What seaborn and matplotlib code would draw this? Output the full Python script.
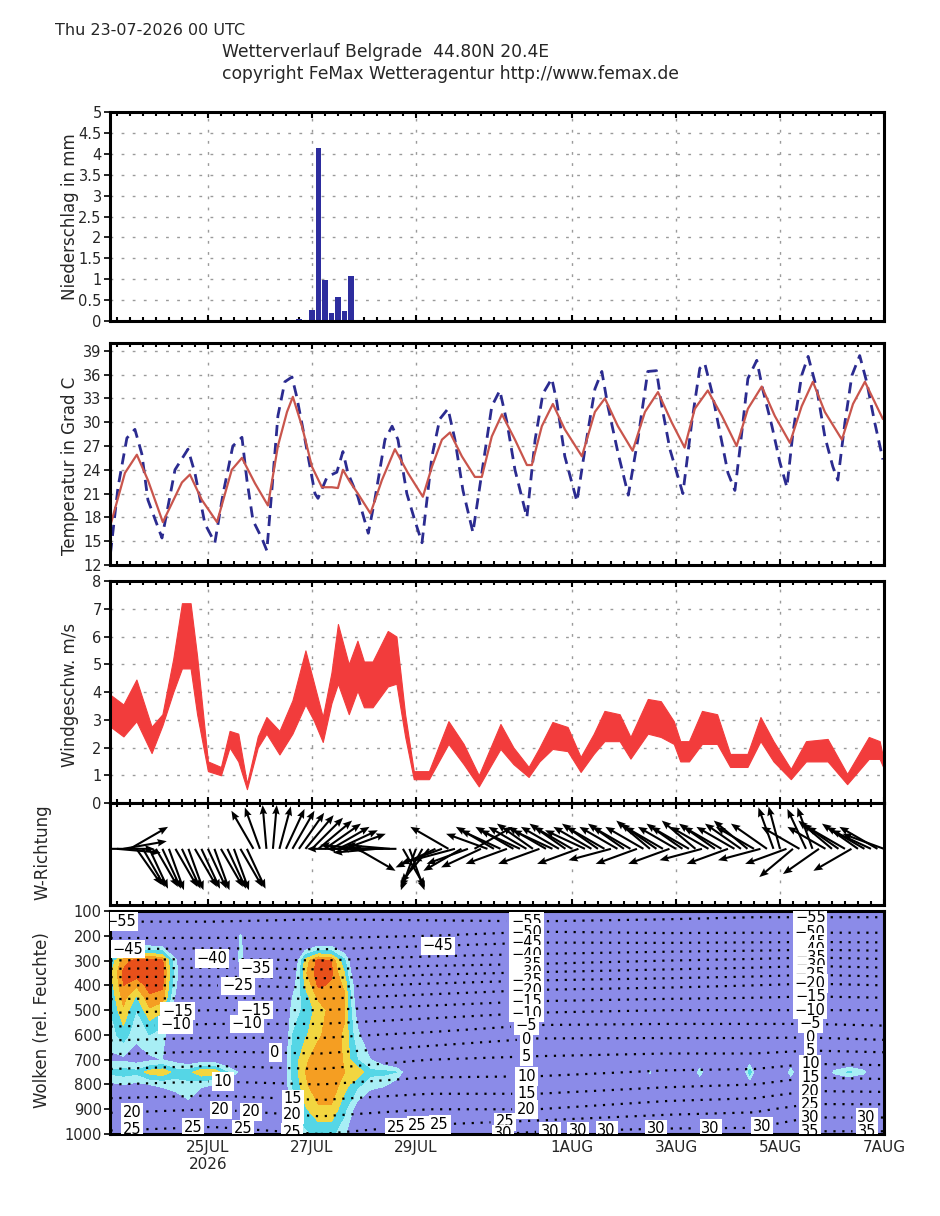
import numpy as np
import matplotlib
matplotlib.use("Agg")
import matplotlib.pyplot as plt
import seaborn as sns

sns.set_theme(style="white")
plt.rcParams["font.family"] = ["DejaVu Sans"]

# time axis: hours since Thu 23-07-2026 00 UTC
x_start, x_end = 2.8, 360
date_ticks = [48, 96, 144, 216, 264, 312, 360]
date_labels = ["25JUL\n2026", "27JUL", "29JUL", "1AUG", "3AUG", "5AUG", "7AUG"]

# precipitation (3-hourly sums, mm)
rain_hours = [90, 93, 96, 99, 102, 105, 108, 111, 114]
rain_mm = [0.05, 0.0, 0.27, 4.15, 0.97, 0.2, 0.58, 0.25, 1.07]

# 2m temperature (dashed blue)
temp_hours = [3, 6.5, 10.6, 14.3, 17.5, 20.3, 26.8, 32.8, 38.8, 42, 46.6, 51.2,
              55, 59.5, 63.7, 66, 68.8, 73, 75.2, 77.5, 80.3, 83.5, 86.8, 89,
              92.8, 97.4, 98.8, 103, 107.5, 110.3, 112.6, 117.2, 122, 125, 129.7,
              133, 135.7, 139.8, 143.5, 146.8, 151.4, 155, 158.8, 162, 165.7,
              170.3, 174.4, 179, 182.7, 186, 189.7, 195.2, 199, 202.6, 206.7, 209,
              212.7, 218.3, 222, 226.6, 229.8, 232.6, 237.2, 242, 246.4, 251, 255,
              257.5, 261.2, 267.2, 271.3, 275, 277.3, 280.6, 284.3, 288, 291.2,
              293.5, 297.2, 301.3, 304, 308.3, 312, 315.2, 318, 322, 325, 329,
              332.7, 336.4, 338.7, 342, 345.2, 348.8, 352, 355.7, 359.5]
temp_2m = [13.4, 21.8, 28, 29.1, 26, 20.2, 15.4, 24, 26.6, 23.6, 17.2, 14.8,
           21, 27, 28.1, 22.7, 17.6, 15.3, 13.8, 21.4, 30.8, 35.1, 35.7, 33.2,
           27.8, 21, 20.4, 23.1, 23.7, 26.3, 23.6, 20.6, 16, 20.2, 27.8,
           29.5, 27.8, 21, 17.6, 14.8, 25.7, 30.4, 31.7, 27.8, 21.4,
           16.1, 23.6, 32, 34, 30, 24, 18, 27.8, 33.6, 35.5, 32.6,
           25.7, 20, 26.6, 34.2, 36.4, 32, 26.2, 20.8, 27.8, 36.4, 36.5,
           32, 26.6, 21, 30, 36.8, 37.4, 33.8, 28.7, 23.6, 21.4,
           26.6, 35.5, 37.8, 34.2, 29.5, 24.9, 21.8, 28.7, 35.9, 38.3, 34.2,
           28.2, 24.4, 22.7, 30, 35.9, 38.4, 35.1, 30, 25.3]

# smoothed temperature (solid red)
mean_hours = [3, 9.7, 15.2, 20.3, 27.2, 36, 39.7, 45.2, 52.2, 59, 63.7, 69.7,
              75.7, 80.3, 84.5, 87.2, 91.4, 96, 100.6, 105.2, 108, 110.3, 113.5,
              117.2, 123, 128.3, 134.3, 140.3, 147.2, 151.4, 156, 159.7, 165.2,
              171.2, 174.4, 179, 183.7, 189.7, 195.2, 197.5, 202.1, 207.2, 212.7,
              220.6, 226.6, 231.2, 237.2, 244, 249.7, 255.7, 262, 268, 272.7,
              278.7, 285.2, 292, 297.2, 303.6, 309.6, 316.6, 322, 327.2, 332.7,
              340.6, 345.7, 351.2, 357.2, 359.5]
temp_mean = [17, 23.6, 25.9, 22.7, 17.4, 22.4, 23.4, 20.2, 17.4, 24, 25.5, 22.3,
             19.5, 27, 31.3, 33.2, 29.5, 24.4, 21.8, 21.8, 21.7, 24, 22.5,
             21, 18.5, 22.7, 26.6, 23.6, 20.6, 24.4, 27.8, 28.7, 25.7,
             23.1, 23.1, 28.2, 31, 27.8, 24.6, 24.6, 29.5, 32.3, 29.1,
             25.7, 31.3, 33, 29.5, 26.4, 31.3, 33.8, 30, 26.8, 31.7,
             34, 30.8, 27, 31.7, 34.5, 30.8, 27.4, 32, 35.1, 31.3,
             27.8, 32.3, 35.1, 31.7, 30.4]

# wind speed band (m/s)
wind_hours = [3, 9, 15, 22, 27, 32, 36, 40, 43, 48, 54, 58, 62, 66, 71, 75, 81,
              87, 93, 97, 101, 105, 108, 113, 117, 120, 124, 131, 135, 139, 143,
              150, 159, 166, 173, 183, 189, 196, 201, 207, 214, 220, 226, 231,
              238, 243, 251, 257, 263, 266, 270, 276, 283, 289, 297, 303, 309,
              317, 324, 334, 343, 353, 358, 360]
wind_low = [2.75, 2.4, 2.95, 1.8, 2.8, 4.0, 4.85, 4.85, 3.2, 1.15, 1.0, 2.0, 1.5,
            0.5, 2.0, 2.5, 1.75, 2.5, 3.55, 2.95, 2.2, 3.6, 4.3, 3.2, 4.05, 3.45,
            3.45, 4.2, 4.3, 2.4, 0.86, 0.86, 2.13, 1.4, 0.6, 1.95, 1.4, 0.94,
            1.5, 1.95, 1.87, 1.12, 1.77, 2.23, 2.23, 1.6, 2.5, 2.38, 2.13, 1.5,
            1.5, 2.13, 2.13, 1.3, 1.3, 2.23, 1.5, 0.86, 1.5, 1.5, 0.68, 1.59,
            1.59, 1.23]
wind_high = [3.9, 3.55, 4.45, 2.75, 3.2, 5.2, 7.2, 7.2, 5.3, 1.5, 1.3, 2.6, 2.5,
             0.7, 2.4, 3.1, 2.6, 3.7, 5.5, 4.3, 3.1, 4.7, 6.45, 5.0, 5.85, 5.1,
             5.1, 6.2, 6.0, 3.2, 1.15, 1.15, 2.95, 2.13, 1.0, 2.85, 2.0, 1.3,
             2.0, 2.92, 2.74, 1.66, 2.49, 3.32, 3.2, 2.38, 3.75, 3.67, 2.95, 2.23,
             2.23, 3.32, 3.2, 1.77, 1.77, 3.1, 2.23, 1.23, 2.23, 2.31, 1.05, 2.38,
             2.23, 1.5]

# wind direction (deg, meteorological "from"), 3-hourly from 3h to 360h
dir_hours = list(range(3, 361, 3))
wind_dir = [270, 275, 260, 240, 325, 330, 335,
            330, 335, 340, 330, 335, 340, 330, 335,
            335, 340, 330, 335, 340, 330, 335, 150,
            160, 175, 185, 195, 205, 210, 215, 220,
            225, 230, 235, 240, 245, 250, 90, 300,
            95, 90, 85, 90, 95, 90, 330, 340,
            20, 30, 40, 65, 70, 120, 75, 60,
            70, 240, 65, 110, 120, 115, 70, 120,
            115, 120, 125, 70, 120, 115, 120, 125,
            120, 70, 115, 120, 125, 120, 75, 120,
            125, 120, 70, 120, 130, 125, 120, 70,
            120, 125, 120, 130, 75, 120, 125, 120,
            70, 120, 125, 130, 120, 75, 125, 160,
            165, 70, 50, 120, 155, 160, 55, 120,
            130, 125, 120, 60, 125, 120, 115, 120,
            110]

# relative humidity cross-section (%)
rh_levels = [100, 200, 300, 350, 400, 450, 500, 600, 700, 750, 800, 900, 1000]
rh_hours = [3, 9, 15, 21, 27, 33, 39, 45, 51, 57, 63, 69, 75, 81, 87, 93, 99,
            105, 111, 117, 123, 129, 135, 141, 150, 246, 252, 258, 269, 275,
            281, 292, 298, 304, 311, 317, 323, 331, 337, 344, 351, 357, 360]
rh_table = [
    [40, 45, 80, 84, 82, 80, 78, 74, 68, 80, 68, 50, 40],
    [40, 48, 94, 97, 96, 93, 90, 82, 68, 82, 70, 55, 40],
    [40, 50, 98, 99, 92, 84, 78, 72, 66, 80, 68, 50, 40],
    [40, 50, 99, 99, 98, 95, 90, 78, 68, 88, 70, 52, 40],
    [40, 48, 97, 98, 97, 94, 86, 74, 70, 90, 72, 55, 40],
    [40, 42, 72, 74, 72, 68, 62, 55, 66, 82, 74, 60, 40],
    [40, 40, 50, 50, 50, 50, 50, 50, 62, 82, 76, 66, 45],
    [40, 40, 45, 45, 45, 45, 45, 45, 64, 91, 72, 55, 40],
    [40, 40, 45, 45, 45, 45, 45, 45, 64, 90, 70, 50, 40],
    [40, 40, 45, 45, 45, 45, 45, 45, 58, 78, 64, 45, 40],
    [40, 72, 74, 50, 45, 45, 45, 45, 48, 68, 55, 45, 40],
    [40, 50, 50, 45, 40, 40, 40, 40, 40, 40, 40, 40, 40],
    [40, 40, 40, 40, 40, 40, 40, 40, 40, 40, 40, 40, 40],
    [40, 40, 45, 45, 45, 45, 45, 50, 55, 55, 55, 50, 45],
    [40, 40, 55, 60, 65, 70, 74, 78, 80, 80, 78, 76, 72],
    [40, 45, 88, 90, 86, 82, 80, 84, 90, 91, 90, 84, 76],
    [40, 50, 98, 99, 97, 92, 88, 90, 94, 95, 95, 90, 80],
    [40, 50, 96, 97, 95, 94, 93, 94, 96, 96, 95, 90, 80],
    [40, 45, 80, 85, 90, 92, 92, 90, 90, 91, 88, 80, 72],
    [40, 40, 50, 55, 60, 62, 65, 72, 78, 90, 80, 65, 50],
    [40, 40, 45, 45, 45, 45, 50, 60, 70, 80, 74, 55, 45],
    [40, 40, 40, 40, 40, 40, 45, 50, 62, 80, 72, 50, 40],
    [40, 40, 40, 40, 40, 40, 40, 45, 55, 78, 65, 45, 40],
    [40, 40, 40, 40, 40, 40, 40, 40, 45, 60, 50, 40, 40],
    [40, 40, 40, 40, 40, 40, 40, 40, 40, 40, 40, 40, 40],
    [40, 40, 40, 40, 40, 40, 40, 40, 40, 40, 40, 40, 40],
    [40, 40, 40, 40, 40, 40, 40, 40, 50, 72, 50, 40, 40],
    [40, 40, 40, 40, 40, 40, 40, 40, 40, 40, 40, 40, 40],
    [40, 40, 40, 40, 40, 40, 40, 40, 40, 40, 40, 40, 40],
    [40, 40, 40, 40, 40, 40, 40, 40, 55, 77, 55, 40, 40],
    [40, 40, 40, 40, 40, 40, 40, 40, 40, 40, 40, 40, 40],
    [40, 40, 40, 40, 40, 40, 40, 40, 40, 40, 40, 40, 40],
    [40, 40, 40, 40, 40, 40, 40, 40, 62, 83, 62, 40, 40],
    [40, 40, 40, 40, 40, 40, 40, 40, 40, 40, 40, 40, 40],
    [40, 40, 40, 40, 40, 40, 40, 40, 40, 40, 40, 40, 40],
    [40, 40, 40, 40, 40, 40, 40, 40, 55, 77, 55, 40, 40],
    [40, 40, 40, 40, 40, 40, 40, 40, 40, 40, 40, 40, 40],
    [40, 40, 40, 40, 40, 40, 40, 40, 40, 40, 40, 40, 40],
    [40, 40, 40, 40, 40, 40, 40, 40, 50, 73, 50, 40, 40],
    [40, 40, 40, 40, 40, 40, 40, 40, 55, 79, 55, 40, 40],
    [40, 40, 40, 40, 40, 40, 40, 40, 50, 73, 50, 40, 40],
    [40, 40, 40, 40, 40, 40, 40, 40, 40, 40, 40, 40, 40],
    [40, 40, 40, 40, 40, 40, 40, 40, 40, 40, 40, 40, 40],
]

# air temperature cross-section (deg C) for the dotted isotherms
t_levels = [100, 200, 300, 400, 500, 600, 700, 800, 900, 1000]
t_hours = [3, 50, 100, 150, 200, 260, 300, 326, 360]
t_table = [
    [-58, -51, -40, -25, -16, -7, 2, 10, 19, 26],
    [-58, -51, -39, -25, -15, -6, 3, 11, 20, 27],
    [-57, -51, -40, -26, -15, -6, 2, 10, 18, 25],
    [-58, -50, -38, -24, -13, -4, 5, 12, 20, 28],
    [-60, -48, -37, -22, -11, -1, 6, 12, 20, 31],
    [-58, -49, -35, -21, -10, -1, 7, 14, 23, 32],
    [-57, -49, -34, -20, -10, -1, 7, 15, 24, 32],
    [-57, -49, -33, -19, -10, -1, 8.5, 17.5, 27, 36],
    [-57, -49, -34, -20, -10, -2, 8, 17, 27, 36],
]
isotherms = list(range(-55, 40, 5))

# ---------------------------------------------------------------- figure
fig = plt.figure(figsize=(9.4, 12.16), dpi=100)
L, W = 0.117, 0.8234
ax1 = fig.add_axes([L, 0.736, W, 0.1719])
ax2 = fig.add_axes([L, 0.5354, W, 0.1826])
ax3 = fig.add_axes([L, 0.3396, W, 0.1826])
ax4 = fig.add_axes([L, 0.2558, W, 0.0839])
ax5 = fig.add_axes([L, 0.0674, W, 0.1834])
axes = [ax1, ax2, ax3, ax4, ax5]

grid_kw = dict(color="#9a9a9a", linestyle=(0, (2, 6)), linewidth=1.0)

for ax in axes:
    ax.set_xlim(x_start, x_end)
    ax.set_xticks(date_ticks)
    ax.set_xticks(np.arange(6, 360, 6), minor=True)
    ax.tick_params(axis="x", which="minor", direction="in", top=True,
                   bottom=True, length=3, width=1.5, color="black")
    ax.tick_params(axis="x", which="major", direction="in", top=True,
                   bottom=True, length=4, width=1.5, color="black")
    ax.tick_params(axis="y", direction="out", left=True, length=4,
                   width=1.2, labelsize=10.5, color="black", pad=2)
    for s in ax.spines.values():
        s.set_linewidth(2.2)
        s.set_color("black")
    if ax is not ax5:
        ax.set_xticklabels([])
        ax.grid(True, which="major", **grid_kw)
        ax.set_axisbelow(True)

# precipitation
ax1.bar(rain_hours, rain_mm, width=2.4, color="#2d2d9e", linewidth=0)
ax1.set_ylim(0, 5)
p_ticks = np.arange(0, 5.01, 0.5)
ax1.set_yticks(p_ticks)
ax1.set_yticklabels([f"{v:g}" for v in p_ticks])

# temperature
sns.lineplot(x=temp_hours, y=temp_2m, ax=ax2, color="#2b2b90",
             linewidth=2.0, linestyle=(0, (4, 2.5)), estimator=None)
sns.lineplot(x=mean_hours, y=temp_mean, ax=ax2, color="#c9554c",
             linewidth=1.6, estimator=None)
ax2.set_ylim(12, 40)
ax2.set_yticks(range(12, 40, 3))

# wind speed
ax3.fill_between(wind_hours, wind_low, wind_high, color="#f23c3c",
                 edgecolor="#f23c3c", linewidth=0.8)
ax3.set_ylim(0, 8)
ax3.set_yticks(range(0, 9))

# wind direction arrows
d = np.deg2rad(np.array(wind_dir, dtype=float))
u, v = -np.sin(d), -np.cos(d)
ax4.quiver(dir_hours, np.zeros(len(dir_hours)), u, v, angles="uv",
           scale_units="inches", scale=1 / 0.44, width=0.0027,
           headwidth=3.6, headlength=4.5, headaxislength=4, color="black")
ax4.set_ylim(-1.1, 0.9)
ax4.set_yticks([])

# clouds (relative humidity) with isotherms
bg = "#8b8be8"
ax5.set_facecolor(bg)
rh = np.array(rh_table).T
ax5.contourf(rh_hours, rh_levels, rh, levels=[0, 70, 78, 85, 91, 96, 101],
             colors=[bg, "#a8eef5", "#55d6e6", "#f2d640", "#f59e22", "#e8501a"])
tt = np.array(t_table).T
cs = ax5.contour(t_hours, t_levels, tt, levels=isotherms, colors="black",
                 linewidths=1.6, linestyles=[(0, (1, 3))])


def level_pressure(col, level):
    return float(np.interp(level, t_table[col], t_levels))


label_pos = []
for lev in range(-55, 25, 5):
    label_pos.append((195, level_pressure(4, lev)))
for lev in range(-55, 40, 5):
    label_pos.append((326, level_pressure(7, lev)))
label_pos += [(185, level_pressure(4, 25)), (184, level_pressure(4, 30)),
              (206, level_pressure(4, 30))]
label_pos += [(8, 150), (11, 250), (50, 295), (62, 410), (70, 330), (34, 500),
              (33, 560), (70, 515), (66, 580), (79, 680), (55, 770), (54, 890),
              (68, 890), (87, 870), (87, 935), (87, 970), (13, 930), (13, 985),
              (41, 965), (64, 990), (135, 985), (145, 990), (155, 980),
              (154, 230), (219, 985), (232, 975), (255, 975), (280, 975),
              (304, 975), (352, 960), (352, 995)]

labels = ax5.clabel(cs, manual=label_pos, inline=True, fontsize=10.5,
                    fmt=lambda x: f"{x:.0f}".replace("-", "\u2212"))
for t in labels:
    t.set_rotation(0)
    t.set_bbox(dict(boxstyle="square,pad=0.12", facecolor="white",
                    edgecolor="none"))

ax5.set_ylim(1000, 100)
ax5.set_yticks(range(100, 1001, 100))
ax5.set_xticklabels(date_labels, fontsize=11)
ax5.tick_params(axis="x", which="major", pad=4)

# axis titles
ylab_kw = dict(rotation=90, ha="center", va="center", fontsize=12)
fig.text(0.0745, 0.822, "Niederschlag in mm", **ylab_kw)
fig.text(0.0745, 0.617, "Temperatur in Grad C", **ylab_kw)
fig.text(0.0745, 0.4285, "Windgeschw. m/s", **ylab_kw)
fig.text(0.045, 0.2993, "W-Richtung", **ylab_kw)
fig.text(0.045, 0.161, "Wolken (rel. Feuchte)", **ylab_kw)

# header
fig.text(0.058, 0.9753, "Thu 23-07-2026 00 UTC", fontsize=11.5, va="center")
fig.text(0.236, 0.9572, "Wetterverlauf Belgrade  44.80N 20.4E", fontsize=12.3,
         va="center")
fig.text(0.236, 0.9391, "copyright FeMax Wetteragentur http://www.femax.de",
         fontsize=12.3, va="center")

fig.savefig("out.png", dpi=100)
